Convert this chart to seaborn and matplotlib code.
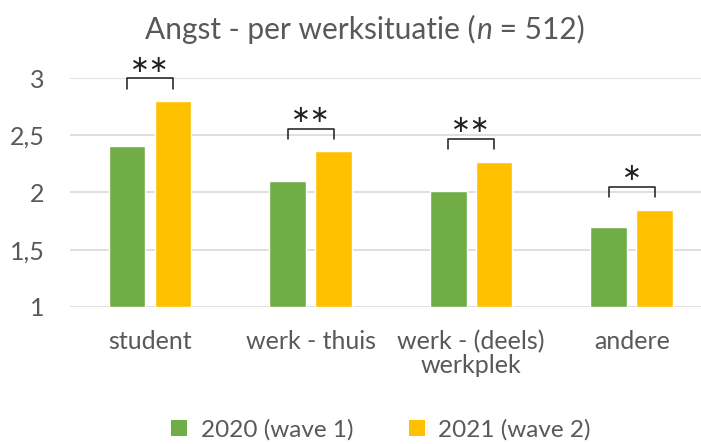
import matplotlib
matplotlib.use("Agg")
import matplotlib.pyplot as plt
import seaborn as sns
import pandas as pd
from matplotlib.offsetbox import TextArea, HPacker, AnchoredOffsetbox
from matplotlib.patches import Patch

categories = ["student", "werk - thuis", "werk - (deels)\nwerkplek", "andere"]
series_names = ["2020 (wave 1)", "2021 (wave 2)"]
wave1 = [2.41, 2.10, 2.01, 1.70]
wave2 = [2.80, 2.36, 2.27, 1.85]
significance = ["∗∗", "∗∗", "∗∗", "∗"]
y_ticks = [1, 1.5, 2, 2.5, 3]
y_tick_labels = ["1", "1,5", "2", "2,5", "3"]
title_main = "Angst - per werksituatie ("
title_n = "n"
title_rest = " = 512)"

colors = ["#70AD47", "#FFC000"]
gray = "#595959"

sns.set_theme(style="white")
plt.rcParams["font.family"] = ["Lato", "DejaVu Sans"]

df = pd.DataFrame({
    "cat": categories * 2,
    "wave": [series_names[0]] * 4 + [series_names[1]] * 4,
    "val": wave1 + wave2,
})

fig = plt.figure(figsize=(7.01, 4.44), dpi=100)
ax = fig.add_axes([69.7 / 701, 1 - 306.7 / 444, (712 - 69.7) / 701, (306.7 - 78.3) / 444])

sns.barplot(data=df, x="cat", y="val", hue="wave", palette=colors,
            width=0.572, gap=0.2, ax=ax, legend=False, saturation=1)

ax.set_xlim(-0.5, len(categories) - 0.5)
ax.set_ylim(1, 3)
for p in ax.patches:
    h = p.get_height()
    p.set_y(1)
    p.set_height(h - 1)

ax.set_yticks(y_ticks)
ax.set_yticklabels(y_tick_labels)
ax.set_xlabel("")
ax.set_ylabel("")
ax.tick_params(axis="both", length=0, labelsize=18, colors=gray)
ax.tick_params(axis="x", pad=17)
ax.tick_params(axis="y", pad=18)
for t in ax.get_xticklabels():
    t.set_linespacing(1.0)
ax.yaxis.grid(True, color="#D9D9D9", linewidth=1.2)
ax.set_axisbelow(True)
for s in ax.spines.values():
    s.set_visible(False)

# significance brackets
n = len(categories)
patches = ax.patches
for i in range(n):
    b1 = patches[i]
    b2 = patches[i + n]
    x1 = b1.get_x() + b1.get_width() / 2
    x2 = b2.get_x() + b2.get_width() / 2
    top = max(wave1[i], wave2[i]) + 0.2
    ax.plot([x1, x1, x2, x2], [top - 0.09, top, top, top - 0.09],
            color="#1a1a1a", linewidth=1.1, clip_on=False)
    ax.text((x1 + x2) / 2, top + 0.015, significance[i], ha="center", va="bottom",
            fontsize=17, color="#222222", family=["DejaVu Sans"])

# title with italic n
ta1 = TextArea(title_main, textprops=dict(fontsize=21.5, color=gray))
ta2 = TextArea(title_n, textprops=dict(fontsize=21.5, color=gray, style="italic"))
ta3 = TextArea(title_rest, textprops=dict(fontsize=21.5, color=gray))
box = HPacker(children=[ta1, ta2, ta3], align="baseline", pad=0, sep=0)
anch = AnchoredOffsetbox(loc="center", child=box, frameon=False,
                         bbox_to_anchor=(365 / 701, 1 - 29 / 444),
                         bbox_transform=fig.transFigure, borderpad=0, pad=0)
fig.add_artist(anch)

# legend
handles = [Patch(facecolor=c, edgecolor="none") for c in colors]
leg = fig.legend(handles, series_names, loc="center", ncol=2,
                 bbox_to_anchor=(381 / 701, 1 - 430 / 444), frameon=False,
                 fontsize=17.5, handlelength=0.65, handleheight=0.65,
                 handletextpad=0.55, columnspacing=2.3)
for t in leg.get_texts():
    t.set_color(gray)

fig.savefig("out.png", dpi=100)
